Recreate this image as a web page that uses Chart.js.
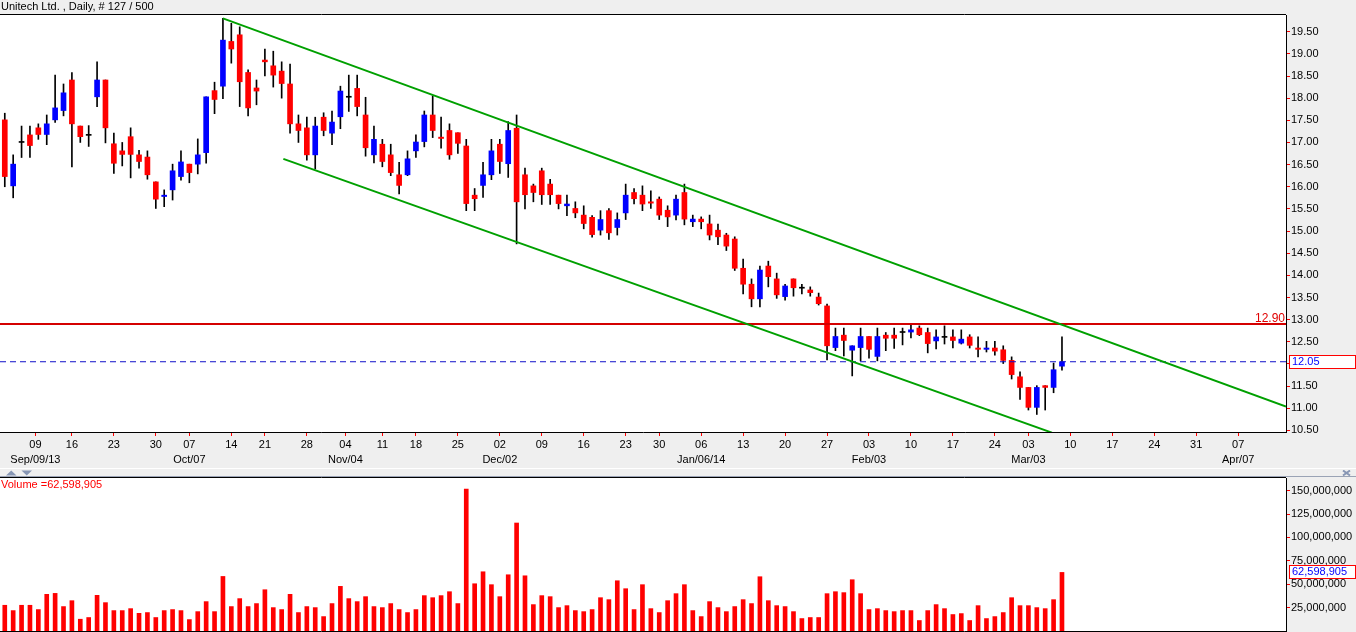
<!DOCTYPE html>
<html>
<head>
<meta charset="utf-8">
<title>Unitech Ltd. Daily</title>
<script src="https://cdn.jsdelivr.net/npm/chart.js@4.4.1/dist/chart.umd.min.js"></script>
<style>
  html, body { margin: 0; padding: 0; background: #efefef; overflow: hidden; }
  #wrap { position: relative; width: 1356px; height: 632px; }
  canvas { position: absolute; left: 0; }
  #price { top: 0; }
  #volume { top: 470px; }
</style>
</head>
<body>
<div id="wrap">
  <canvas id="price" width="1356" height="470"></canvas>
  <canvas id="volume" width="1356" height="162"></canvas>
</div>
<script>
// daily bars, Sep 2013 - Mar 07 2014 (127 sessions), index 0..126
const opens = [
  17.51, 16.02, 17.00, 17.17, 17.33, 17.18, 17.51, 17.72, 18.41, 17.37,
  17.16, 18.03, 18.41, 16.97, 16.81, 17.13, 16.72, 16.67, 16.11, 15.78,
  15.93, 16.23, 16.51, 16.51, 16.77, 18.17, 18.27, 19.28, 19.43, 18.58,
  18.23, 18.86, 18.73, 18.61, 18.32, 17.42, 17.33, 16.72, 17.57, 17.21,
  17.58, 18.02, 18.22, 17.62, 16.72, 16.96, 16.72, 16.27, 16.27, 16.81,
  17.02, 17.62, 17.12, 17.27, 17.22, 16.92, 15.81, 16.03, 16.27, 16.96,
  16.52, 17.32, 16.27, 16.02, 16.36, 16.06, 15.81, 15.57, 15.51, 15.36,
  15.31, 15.02, 15.46, 15.08, 15.41, 15.87, 15.81, 15.66, 15.72, 15.47,
  15.36, 15.87, 15.21, 15.27, 15.16, 15.02, 14.91, 14.82, 14.16, 13.80,
  13.47, 14.21, 13.92, 13.52, 13.92, 13.71, 13.67, 13.51, 13.31, 12.37,
  12.65, 12.31, 12.37, 12.62, 12.17, 12.65, 12.65, 12.71, 12.72, 12.81,
  12.71, 12.52, 12.60, 12.61, 12.47, 12.61, 12.36, 12.33, 12.36, 12.32,
  12.08, 11.71, 11.47, 11.02, 11.51, 11.47, 11.95
];
const highs = [
  17.66, 16.72, 17.37, 17.37, 17.42, 17.62, 18.52, 18.32, 18.58, 17.37,
  17.38, 18.82, 18.41, 17.21, 17.00, 17.33, 16.82, 16.81, 16.11, 15.93,
  16.51, 16.81, 16.51, 17.08, 18.03, 18.36, 19.80, 19.69, 19.61, 18.64,
  18.41, 19.11, 19.06, 18.82, 18.77, 17.62, 17.57, 17.57, 17.67, 17.71,
  18.27, 18.52, 18.52, 18.02, 17.37, 17.07, 16.96, 16.55, 16.81, 17.17,
  17.71, 18.05, 17.57, 17.42, 17.22, 17.07, 15.96, 16.55, 17.07, 17.07,
  17.47, 17.62, 16.42, 16.06, 16.42, 16.17, 15.81, 15.81, 15.66, 15.57,
  15.35, 15.46, 15.51, 15.41, 16.06, 15.96, 16.02, 15.91, 15.77, 15.57,
  15.81, 16.06, 15.36, 15.32, 15.36, 15.16, 14.95, 14.87, 14.37, 13.92,
  14.21, 14.32, 14.05, 13.80, 13.92, 13.80, 13.74, 13.60, 13.35, 12.81,
  12.81, 12.41, 12.81, 12.62, 12.81, 12.71, 12.81, 12.81, 12.87, 12.86,
  12.81, 12.77, 12.86, 12.77, 12.77, 12.66, 12.61, 12.51, 12.51, 12.41,
  12.16, 11.82, 11.47, 11.51, 11.51, 12.02, 12.61
];
const lows = [
  16.00, 15.75, 16.66, 16.66, 17.07, 16.95, 17.45, 17.60, 16.45, 17.00,
  16.91, 17.81, 16.99, 16.30, 16.47, 16.20, 16.42, 16.17, 15.51, 15.55,
  15.70, 16.15, 16.09, 16.29, 16.53, 17.65, 17.99, 18.79, 17.81, 17.60,
  17.85, 18.50, 18.25, 18.00, 17.21, 17.00, 16.60, 16.40, 17.15, 16.95,
  17.31, 17.70, 17.60, 16.69, 16.54, 16.45, 16.25, 15.84, 16.25, 16.66,
  16.90, 17.11, 16.87, 16.62, 16.75, 15.46, 15.46, 15.76, 16.16, 16.30,
  16.21, 14.71, 15.50, 15.66, 15.60, 15.60, 15.50, 15.35, 15.30, 15.05,
  14.86, 14.91, 14.81, 14.91, 15.26, 15.61, 15.46, 15.51, 15.26, 15.10,
  15.25, 15.14, 15.10, 15.05, 14.80, 14.69, 14.56, 14.11, 13.58, 13.29,
  13.29, 13.74, 13.48, 13.44, 13.53, 13.58, 13.53, 13.33, 12.09, 12.30,
  12.18, 11.73, 12.07, 12.13, 12.07, 12.30, 12.35, 12.43, 12.59, 12.64,
  12.25, 12.34, 12.45, 12.36, 12.45, 12.36, 12.16, 12.27, 12.20, 12.01,
  11.66, 11.20, 10.96, 10.86, 10.96, 11.35, 11.86
];
const closes = [
  16.23, 16.51, 17.00, 16.93, 17.18, 17.42, 17.78, 18.12, 17.42, 17.13,
  17.16, 18.41, 17.33, 16.53, 16.73, 16.73, 16.57, 16.27, 15.72, 15.81,
  16.36, 16.56, 16.32, 16.72, 18.03, 17.97, 19.31, 19.11, 18.37, 17.78,
  18.16, 18.82, 18.52, 18.33, 17.42, 17.27, 16.72, 17.37, 17.27, 17.46,
  18.16, 18.02, 17.81, 16.88, 17.07, 16.57, 16.32, 16.03, 16.63, 17.01,
  17.62, 17.27, 17.09, 16.72, 16.98, 15.62, 15.73, 16.27, 16.81, 16.57,
  17.27, 15.66, 15.82, 15.87, 15.82, 15.82, 15.62, 15.61, 15.41, 15.17,
  14.92, 15.26, 14.96, 15.26, 15.81, 15.73, 15.61, 15.63, 15.36, 15.32,
  15.72, 15.27, 15.27, 15.21, 14.91, 14.87, 14.66, 14.16, 13.80, 13.47,
  14.12, 13.97, 13.56, 13.76, 13.72, 13.71, 13.61, 13.36, 12.41, 12.62,
  12.53, 12.41, 12.62, 12.33, 12.62, 12.58, 12.58, 12.71, 12.77, 12.66,
  12.46, 12.61, 12.60, 12.53, 12.56, 12.42, 12.33, 12.36, 12.29, 12.08,
  11.76, 11.47, 11.02, 11.47, 11.47, 11.87, 12.05
];
// volume in millions of shares
const volumeMillions = [
  27.5, 21.8, 27.5, 27.5, 22.9, 39.2, 40.2, 26.1, 32.4, 12.6,
  14.4, 38.1, 30.3, 21.8, 21.8, 23.9, 18.9, 19.7, 14.4, 21.8,
  22.9, 21.8, 12.2, 20.7, 31.4, 20.7, 58.3, 26.1, 34.6, 26.1,
  29.3, 44.1, 25.0, 22.9, 39.2, 19.7, 26.1, 25.0, 15.4, 29.3,
  47.7, 34.6, 31.4, 36.7, 26.1, 25.0, 29.3, 22.9, 19.7, 22.9,
  37.8, 35.6, 37.8, 42.0, 29.3, 151.6, 50.5, 63.3, 49.5, 36.7,
  60.1, 115.4, 59.0, 28.2, 37.8, 36.7, 25.0, 27.1, 21.8, 20.7,
  22.9, 35.6, 33.5, 53.7, 45.2, 22.9, 49.5, 23.9, 19.7, 32.4,
  39.9, 49.5, 21.8, 15.4, 31.4, 25.0, 20.7, 26.1, 33.5, 29.3,
  58.0, 32.4, 27.1, 26.1, 20.7, 13.3, 14.4, 14.4, 39.9, 42.0,
  41.0, 54.8, 39.9, 22.9, 23.9, 21.8, 20.7, 21.8, 21.8, 11.2,
  21.8, 28.2, 23.9, 17.6, 18.6, 11.2, 27.1, 13.3, 15.4, 19.7,
  35.6, 27.1, 27.1, 25.0, 23.9, 33.5, 62.598905
];
const lastVolume = 62598905;

// x-axis: bar index of each weekly tick, day label, month label
const dayTickIdx = [3.65, 8, 13, 18, 22, 27, 31, 36, 40.6, 45, 49, 54, 59, 64, 69, 74, 78, 83, 88, 93, 98, 103, 108, 113, 118, 122, 127, 132, 137, 142, 147];
const dayLabels = ['09', '16', '23', '30', '07', '14', '21', '28', '04', '11', '18', '25', '02', '09', '16', '23', '30', '06', '13', '20', '27', '03', '10', '17', '24', '03', '10', '17', '24', '31', '07'];
const monthLabels = ['Sep/09/13', '', '', '', 'Oct/07', '', '', '', 'Nov/04', '', '', '', 'Dec/02', '', '', '', '', 'Jan/06/14', '', '', '', 'Feb/03', '', '', '', 'Mar/03', '', '', '', '', 'Apr/07'];

const priceTicks = [10.5, 11, 11.5, 12, 12.5, 13, 13.5, 14, 14.5, 15, 15.5, 16, 16.5, 17, 17.5, 18, 18.5, 19, 19.5];
const volumeTicks = [25, 50, 75, 100, 125, 150];

// drawn studies: channel lines (bar index, price) and levels
const upperChannel = [{ x: 26, y: 19.80 }, { x: 152.7, y: 11.04 }];
const lowerChannel = [{ x: 33.2, y: 16.63 }, { x: 124.8, y: 10.45 }];
const resistance = 12.90;
const lastClose = 12.05;

const titleText = 'Unitech Ltd. , Daily, # 127 / 500';
const FONT = '"Liberation Sans", Arial, sans-serif';
const X_MIN = -0.57, X_MAX = 152.7;

const candleColors = closes.map((c, i) => c > opens[i] ? '#0000ff' : (c < opens[i] ? '#ff0000' : '#000000'));
const idx = closes.map((c, i) => i);

// value box on the right axis, covers the tick label under it
function axisBox(ctx, a, yPix, text) {
  const top = Math.round(yPix) - 6.5;
  ctx.fillStyle = '#ffffff';
  ctx.fillRect(a.right + 3.5, top, 66, 13);
  ctx.strokeStyle = '#ff0000';
  ctx.lineWidth = 1;
  ctx.strokeRect(a.right + 3.5, top, 66, 13);
  ctx.fillStyle = '#0000ff';
  ctx.textAlign = 'left';
  ctx.fillText(text, a.right + 6, yPix);
}

const priceDecor = {
  id: 'priceDecor',
  beforeDraw(chart) {
    const { ctx, chartArea: a } = chart;
    ctx.save();
    ctx.fillStyle = '#efefef';
    ctx.fillRect(0, 0, chart.width, chart.height);
    ctx.fillStyle = '#ffffff';
    ctx.fillRect(a.left, a.top, a.right - a.left, a.bottom - a.top);
    ctx.restore();
  },
  afterDraw(chart) {
    const { ctx, chartArea: a } = chart;
    const y = chart.scales.y;
    ctx.save();
    ctx.strokeStyle = '#000';
    ctx.lineWidth = 1;
    ctx.beginPath();
    ctx.moveTo(0, a.top - 0.5);
    ctx.lineTo(a.right, a.top - 0.5);
    ctx.stroke();

    ctx.font = '11px ' + FONT;
    ctx.textBaseline = 'middle';
    ctx.textAlign = 'left';
    ctx.fillStyle = '#000';
    ctx.fillText(titleText, 1, 7);

    const yr = y.getPixelForValue(resistance);
    ctx.font = '12px ' + FONT;
    ctx.fillStyle = '#e00000';
    ctx.textAlign = 'right';
    ctx.fillText(resistance.toFixed(2), a.right - 1, yr - 5);

    ctx.font = '11px ' + FONT;
    axisBox(ctx, a, y.getPixelForValue(lastClose), lastClose.toFixed(2));

    ctx.fillStyle = '#ffffff';
    ctx.fillRect(0, chart.height - 2, chart.width, 1);
    ctx.restore();
  }
};

const volumeDecor = {
  id: 'volumeDecor',
  beforeDraw(chart) {
    const { ctx, chartArea: a } = chart;
    ctx.save();
    ctx.fillStyle = '#efefef';
    ctx.fillRect(0, 0, chart.width, chart.height);
    ctx.fillStyle = '#ffffff';
    ctx.fillRect(a.left, a.top, a.right - a.left, a.bottom - a.top);
    ctx.restore();
  },
  afterDraw(chart) {
    const { ctx, chartArea: a } = chart;
    const y = chart.scales.y;
    ctx.save();
    ctx.strokeStyle = '#9aa3b5';
    ctx.lineWidth = 1;
    ctx.beginPath();
    ctx.moveTo(0, a.top - 1.5);
    ctx.lineTo(chart.width, a.top - 1.5);
    ctx.stroke();

    ctx.strokeStyle = '#000';
    ctx.beginPath();
    ctx.moveTo(0, a.top - 0.5);
    ctx.lineTo(a.right, a.top - 0.5);
    ctx.moveTo(0, a.bottom + 0.5);
    ctx.lineTo(a.right, a.bottom + 0.5);
    ctx.stroke();

    // panel arrows and close mark
    ctx.fillStyle = '#8796b4';
    ctx.beginPath();
    ctx.moveTo(6, 5.5); ctx.lineTo(16.5, 5.5); ctx.lineTo(11.25, 0.5); ctx.closePath();
    ctx.moveTo(21.5, 0.5); ctx.lineTo(32, 0.5); ctx.lineTo(26.75, 5.5); ctx.closePath();
    ctx.fill();
    ctx.strokeStyle = '#8796b4';
    ctx.lineWidth = 2;
    ctx.beginPath();
    ctx.moveTo(1343, 0.5); ctx.lineTo(1350, 5.5);
    ctx.moveTo(1350, 0.5); ctx.lineTo(1343, 5.5);
    ctx.stroke();

    ctx.font = '11px ' + FONT;
    ctx.textBaseline = 'middle';
    ctx.textAlign = 'left';
    ctx.fillStyle = '#ff0000';
    ctx.fillText('Volume =' + lastVolume.toLocaleString('en-US'), 1, a.top + 7);

    axisBox(ctx, a, y.getPixelForValue(lastVolume / 1e6), lastVolume.toLocaleString('en-US'));
    ctx.restore();
  }
};

// keep tick label overhang from shrinking the plot area
const rightAxisFit = s => { s.width = 70; s.paddingTop = 0; s.paddingBottom = 0; };

const xLinear = (height, show) => ({
  type: 'linear',
  min: X_MIN,
  max: X_MAX,
  offset: false,
  display: show,
  afterBuildTicks: s => { s.ticks = dayTickIdx.map(v => ({ value: v })); },
  afterFit: s => { s.height = height; s.paddingLeft = 0; s.paddingRight = 0; },
  border: { color: '#000', width: 1 },
  grid: { drawOnChartArea: false, offset: false, tickLength: 4, tickColor: '#ff0000' },
  ticks: {
    autoSkip: false,
    maxRotation: 0,
    minRotation: 0,
    padding: 1,
    color: '#000',
    font: { family: FONT, size: 11, lineHeight: '15px' },
    callback: (v, i) => [dayLabels[i], monthLabels[i]]
  }
});

new Chart(document.getElementById('price'), {
  type: 'bar',
  data: {
    datasets: [
      {
        type: 'line', label: 'upper channel', data: upperChannel, order: 0,
        borderColor: '#00a000', borderWidth: 2, pointRadius: 0, fill: false, tension: 0
      },
      {
        type: 'line', label: 'lower channel', data: lowerChannel, order: 0,
        borderColor: '#00a000', borderWidth: 2, pointRadius: 0, fill: false, tension: 0
      },
      {
        type: 'line', label: 'resistance', order: 0,
        data: [{ x: X_MIN, y: resistance }, { x: X_MAX, y: resistance }],
        borderColor: '#d40000', borderWidth: 2, pointRadius: 0, fill: false
      },
      {
        type: 'line', label: 'last', order: 0,
        data: [{ x: X_MIN, y: lastClose }, { x: X_MAX, y: lastClose }],
        borderColor: '#1010c8', borderWidth: 1, borderDash: [6, 4], pointRadius: 0, fill: false
      },
      {
        label: 'body', order: 1,
        data: idx.map(i => ({ x: i, y: [opens[i], closes[i]] })),
        backgroundColor: candleColors,
        borderWidth: 0, barThickness: 5, minBarLength: 1, grouped: false
      },
      {
        label: 'wick', order: 2,
        data: idx.map(i => ({ x: i, y: [lows[i], highs[i]] })),
        backgroundColor: '#000000',
        borderWidth: 0, barThickness: 1, grouped: false
      }
    ]
  },
  options: {
    responsive: false,
    animation: false,
    devicePixelRatio: 1,
    events: [],
    layout: { padding: { top: 15, left: 0, right: 0, bottom: 0 } },
    plugins: { legend: { display: false }, tooltip: { enabled: false } },
    scales: {
      x: xLinear(38, true),
      y: {
        type: 'linear',
        position: 'right',
        min: 10.464,
        max: 19.877,
        beginAtZero: false,
        afterBuildTicks: s => { s.ticks = priceTicks.map(v => ({ value: v })); },
        afterFit: rightAxisFit,
        border: { color: '#000', width: 1 },
        grid: { drawOnChartArea: false, tickLength: 4, tickColor: '#ff0000' },
        ticks: { padding: 1, color: '#000', font: { family: FONT, size: 11 }, callback: v => v.toFixed(2) }
      }
    }
  },
  plugins: [priceDecor]
});

new Chart(document.getElementById('volume'), {
  type: 'bar',
  data: {
    datasets: [{
      label: 'Volume',
      data: idx.map(i => ({ x: i, y: volumeMillions[i] })),
      backgroundColor: '#ff0000',
      borderWidth: 0,
      barThickness: 4
    }]
  },
  options: {
    responsive: false,
    animation: false,
    devicePixelRatio: 1,
    events: [],
    layout: { padding: { top: 8, left: 0, right: 0, bottom: 1 } },
    plugins: { legend: { display: false }, tooltip: { enabled: false } },
    scales: {
      x: xLinear(0, false),
      y: {
        type: 'linear',
        position: 'right',
        min: 0,
        max: 163.5,
        afterBuildTicks: s => { s.ticks = volumeTicks.map(v => ({ value: v })); },
        afterFit: rightAxisFit,
        border: { color: '#000', width: 1 },
        grid: { drawOnChartArea: false, tickLength: 4, tickColor: '#ff0000' },
        ticks: { padding: 1, color: '#000', font: { family: FONT, size: 11 }, callback: v => (v * 1e6).toLocaleString('en-US') }
      }
    }
  },
  plugins: [volumeDecor]
});
</script>
</body>
</html>
